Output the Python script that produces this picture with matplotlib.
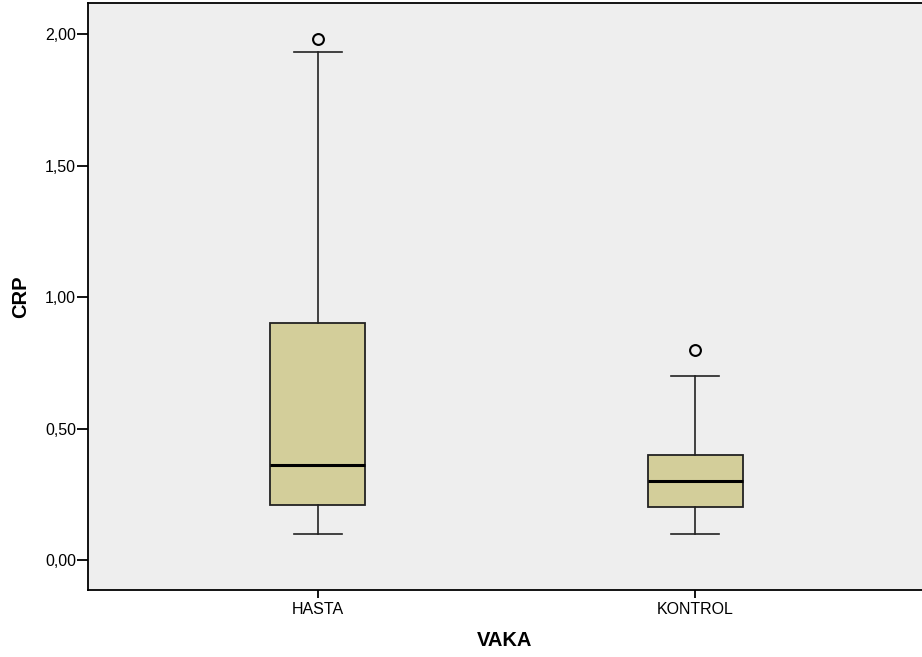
import matplotlib
matplotlib.use("Agg")
import matplotlib.pyplot as plt

plt.rcParams['font.family'] = ['Liberation Sans', 'DejaVu Sans']

categories = ["HASTA", "KONTROL"]
whisker_low = [0.10, 0.10]
q1 = [0.21, 0.20]
median = [0.36, 0.30]
q3 = [0.90, 0.40]
whisker_high = [1.93, 0.70]
outliers = [[1.98], [0.80]]
yticks = [0.0, 0.5, 1.0, 1.5, 2.0]
ytick_labels = ["0,00", "0,50", "1,00", "1,50", "2,00"]

fig = plt.figure(figsize=(9.22, 6.57), dpi=100)
ax = fig.add_axes([88/922, 1-590/657, 1-88/922, 587/657])
ax.set_facecolor('#EEEEEE')

stats = []
for i, c in enumerate(categories):
    stats.append(dict(label=c, whislo=whisker_low[i], q1=q1[i], med=median[i],
                      q3=q3[i], whishi=whisker_high[i], fliers=outliers[i]))

ax.bxp(stats, positions=[1, 2], widths=0.252, patch_artist=True,
       boxprops=dict(facecolor='#D3CE9A', edgecolor='#222222', linewidth=1.3),
       medianprops=dict(color='black', linewidth=2.2),
       whiskerprops=dict(color='#222222', linewidth=1.2),
       capprops=dict(color='#222222', linewidth=1.2),
       capwidths=0.125,
       flierprops=dict(marker='o', markerfacecolor='none', markeredgecolor='black',
                       markersize=7.8, markeredgewidth=1.5))

ax.set_xlim(0.39, 2.602)
ax.set_ylim(-0.114, 2.118)
ax.set_yticks(yticks)
ax.set_yticklabels(ytick_labels)
ax.tick_params(axis='both', direction='out', width=1.3, labelsize=11.5, colors='black')
ax.tick_params(axis='y', length=8, pad=0.5)
ax.tick_params(axis='x', length=6, pad=2.5)
ax.spines['right'].set_visible(False)
for s in ['left', 'bottom', 'top']:
    ax.spines[s].set_linewidth(1.3)
ax.set_ylabel('CRP', fontsize=14.5, fontweight='bold', labelpad=11)
ax.set_xlabel('VAKA', fontsize=14.5, fontweight='bold', labelpad=10)

fig.savefig('out.png', dpi=100)
